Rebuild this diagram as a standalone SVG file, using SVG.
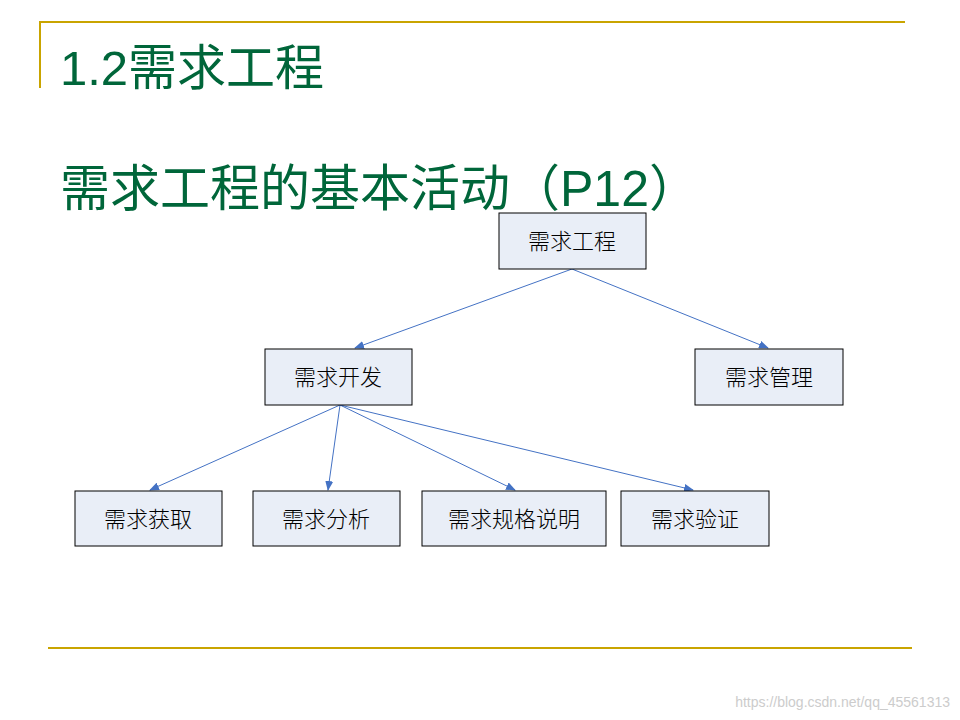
<svg xmlns="http://www.w3.org/2000/svg" width="960" height="720" viewBox="0 0 960 720">
<style>
.n{fill:#E9EEF7;stroke:#000;stroke-width:1}
.t{font-family:"Noto Sans CJK SC",sans-serif;font-size:22px;font-weight:300;fill:#000;text-anchor:middle}
.h{font-family:"Liberation Sans","Noto Sans CJK SC",sans-serif;fill:#00663A}
.c{stroke:#4472C4;stroke-width:1;fill:none;marker-end:url(#a)}
</style>
<defs><marker id="a" markerWidth="10" markerHeight="8" refX="9" refY="4" orient="auto" markerUnits="userSpaceOnUse"><path d="M0,0L10,4L0,8z" fill="#4472C4"/></marker></defs>
<rect width="960" height="720" fill="#fff"/>
<path d="M40,88V22H905M48,648H912" stroke="#C9A400" stroke-width="2" fill="none"/>
<text class="h" x="60" y="85" font-size="49">1.2需求工程</text>
<text class="h" x="60" y="206" font-size="50">需求工程的基本活动（P12）</text>
<g id="connectors">
<line class="c" x1="572" y1="269" x2="355" y2="348"/>
<line class="c" x1="572" y1="269" x2="768" y2="348"/>
<line class="c" x1="340" y1="405" x2="150" y2="490"/>
<line class="c" x1="340" y1="405" x2="328" y2="490"/>
<line class="c" x1="340" y1="405" x2="515" y2="490"/>
<line class="c" x1="340" y1="405" x2="693" y2="490"/>
</g>
<g id="n1"><rect class="n" x="499" y="213" width="147" height="56"/><text class="t" x="572" y="249">需求工程</text></g>
<g id="n2"><rect class="n" x="265" y="349" width="147" height="56"/><text class="t" x="338" y="385">需求开发</text></g>
<g id="n3"><rect class="n" x="695" y="349" width="148" height="56"/><text class="t" x="769" y="385">需求管理</text></g>
<g id="n4"><rect class="n" x="75" y="491" width="147" height="55"/><text class="t" x="148" y="527">需求获取</text></g>
<g id="n5"><rect class="n" x="253" y="491" width="147" height="55"/><text class="t" x="326" y="527">需求分析</text></g>
<g id="n6"><rect class="n" x="422" y="491" width="184" height="55"/><text class="t" x="514" y="527">需求规格说明</text></g>
<g id="n7"><rect class="n" x="621" y="491" width="148" height="55"/><text class="t" x="695" y="527">需求验证</text></g>
<text x="950" y="707" font-family="Liberation Sans,sans-serif" font-size="14" fill="#ccc" text-anchor="end">https://blog.csdn.net/qq_45561313</text>
</svg>
